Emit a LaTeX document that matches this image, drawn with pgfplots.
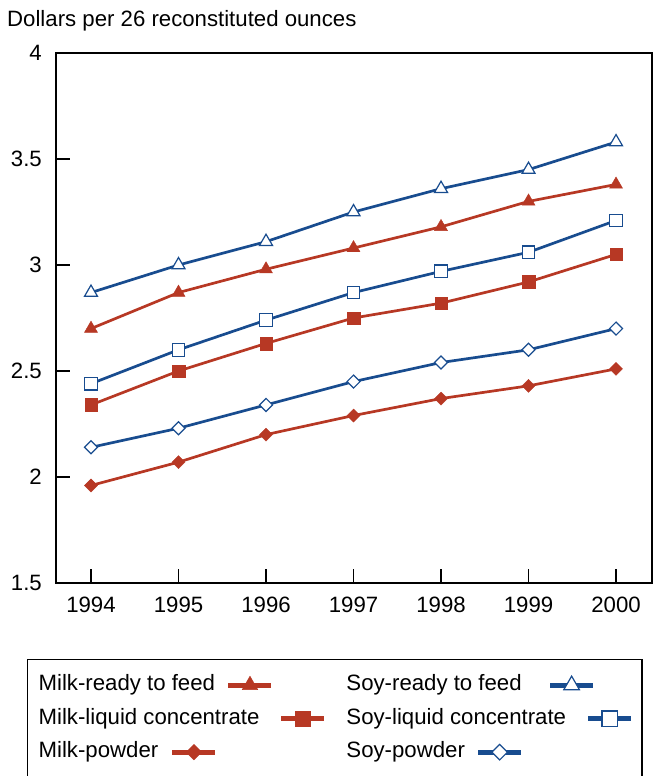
\documentclass[border=0pt]{standalone}
\usepackage{fontspec}
\setmainfont{Liberation Sans}
\usepackage{pgfplots}
\pgfplotsset{compat=1.18}
\definecolor{cred}{RGB}{183,56,36}
\definecolor{cblue}{RGB}{24,76,143}
\pgfkeys{/tikz/legshift/.initial=0bp}
\pgfplotsset{legend image code/.code={%
  \path[draw=none,fill=none] (0bp,-7bp) rectangle (43bp,7bp);
  \draw[overlay,mark repeat=2,mark phase=2,#1,line width=5bp,
        every mark/.append style={scale=1.2},
        xshift=\pgfkeysvalueof{/tikz/legshift}]
    plot coordinates {(0bp,0bp) (21.5bp,0bp) (43bp,0bp)};}}
\begin{document}
\fontsize{22.2bp}{26bp}\selectfont
\begin{tikzpicture}
\begin{axis}[
  scale only axis, width=596bp, height=530bp,
  at={(0,0)}, anchor=south west,
  xmin=1993.6, xmax=2000.411, ymin=1.5, ymax=4,
  xtick={1994,1995,1996,1997,1998,1999,2000},
  ytick={1.5,2,2.5,3,3.5,4},
  /pgf/number format/assume math mode=true,
  /pgf/number format/1000 sep={},
  tick align=inside, xtick pos=bottom, ytick pos=left,
  major tick length=14bp,
  tick style={line width=1.3bp, black},
  axis line style={line width=1.3bp},
  yticklabel style={anchor=east, inner sep=0pt, xshift=-14bp},
  xticklabel style={anchor=north, inner sep=0pt, yshift=-14bp},
  legend columns=2,
  legend plot pos=right,
  legend cell align=left,
  legend style={at={(-0.0487,-0.1434)}, anchor=north west, draw=black,
    line width=1.3bp, inner xsep=11bp, inner ysep=15bp,
    column sep=22bp, row sep=12.5bp,
    nodes={inner sep=0pt, text height=16bp, text depth=5bp}},
]
\addplot[cred, line width=2.7bp, mark=triangle*, mark size=7.5bp,
  mark options={solid, fill=cred, draw=cred, line width=0.4bp},
  legshift=-53bp]
  coordinates {(1994,2.70) (1995,2.87) (1996,2.98) (1997,3.08) (1998,3.18) (1999,3.30) (2000,3.38)};
\addlegendentry{Milk-ready to feed}
\addplot[cblue, line width=2.7bp, mark=triangle*, mark size=7.5bp,
  mark options={solid, fill=white, draw=cblue, line width=1.2bp},
  legshift=-38bp]
  coordinates {(1994,2.87) (1995,3.00) (1996,3.11) (1997,3.25) (1998,3.36) (1999,3.45) (2000,3.58)};
\addlegendentry{Soy-ready to feed}
\addplot[cred, line width=2.7bp, mark=square*, mark size=6.3bp,
  mark options={solid, fill=cred, draw=cred, line width=0.4bp}]
  coordinates {(1994,2.34) (1995,2.50) (1996,2.63) (1997,2.75) (1998,2.82) (1999,2.92) (2000,3.05)};
\addlegendentry{Milk-liquid concentrate}
\addplot[cblue, line width=2.7bp, mark=square*, mark size=6.3bp,
  mark options={solid, fill=white, draw=cblue, line width=1.2bp}]
  coordinates {(1994,2.44) (1995,2.60) (1996,2.74) (1997,2.87) (1998,2.97) (1999,3.06) (2000,3.21)};
\addlegendentry{Soy-liquid concentrate}
\addplot[cred, line width=2.7bp, mark=square*, mark size=4.6bp,
  mark options={solid, rotate=45, fill=cred, draw=cred, line width=0.4bp},
  legshift=-109bp]
  coordinates {(1994,1.96) (1995,2.07) (1996,2.20) (1997,2.29) (1998,2.37) (1999,2.43) (2000,2.51)};
\addlegendentry{Milk-powder}
\addplot[cblue, line width=2.7bp, mark=square*, mark size=4.6bp,
  mark options={solid, rotate=45, fill=white, draw=cblue, line width=1.2bp},
  legshift=-110bp]
  coordinates {(1994,2.14) (1995,2.23) (1996,2.34) (1997,2.45) (1998,2.54) (1999,2.60) (2000,2.70)};
\addlegendentry{Soy-powder}
\addlegendimage{empty legend}\addlegendentry{}
\addlegendimage{empty legend}\addlegendentry{}
\end{axis}
\node[anchor=base west, inner sep=0pt] at (-49bp,556bp) {Dollars per 26 reconstituted ounces};
\pgfresetboundingbox
\path[use as bounding box] (-56bp,-193bp) rectangle (599bp,583bp);
\end{tikzpicture}
\end{document}
